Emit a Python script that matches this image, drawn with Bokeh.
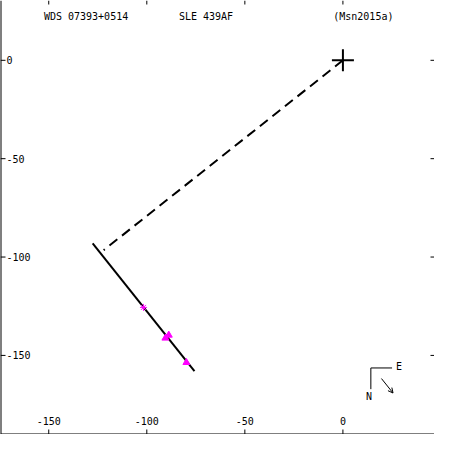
import math
from bokeh.plotting import figure
from bokeh.models import Span, Label, Arrow, OpenHead, ColumnDataSource
from bokeh.core.properties import value
from bokeh.embed import file_html
from bokeh.resources import INLINE

# ---- data ----
tick_values = [-150, -100, -50, 0]
tick_labels = ["-150", "-100", "-50", "0"]

primary_x = [0.0]
primary_y = [0.0]

fit_x = [-127.6, -75.7]
fit_y = [-93.0, -158.0]

node_x = [0.0, -122.0]
node_y = [0.0, -96.5]

obs_x = [-101.7, -90.5, -88.8, -79.8]
obs_y = [-125.6, -141.2, -139.7, -153.6]
obs_marker = ["asterisk", "triangle", "triangle", "triangle"]

title_left = "WDS 07393+0514"
title_mid = "SLE 439AF"
title_right = "(Msn2015a)"

X0, X1 = -174.6, 46.7
Y0, Y1 = -190.2, 30.4

W = H = 434
s = W / 450.0
FONT = "DejaVu Sans Mono"
FS = "10px"

p = figure(width=W, height=H, x_range=(X0, X1), y_range=(Y0, Y1),
           output_backend="svg", toolbar_location=None,
           x_axis_type=None, y_axis_type=None, min_border=0)
p.grid.visible = False
p.outline_line_color = None
p.background_fill_color = "white"

# axis lines (left and bottom)
p.add_layout(Span(location=X0, dimension="height", line_color="black", line_width=2))
p.add_layout(Span(location=Y0, dimension="width", line_color="black", line_width=2))

# ticks
n = len(tick_values)
p.ray(x=tick_values, y=[Y0] * n, length=5, length_units="screen", angle=math.pi / 2, color="black", line_width=1)
p.ray(x=tick_values, y=[Y1] * n, length=4, length_units="screen", angle=-math.pi / 2, color="black", line_width=1)
p.ray(x=[X0] * n, y=tick_values, length=5, length_units="screen", angle=0, color="black", line_width=1)
p.ray(x=[X1] * n, y=tick_values, length=4, length_units="screen", angle=math.pi, color="black", line_width=1)

# tick labels
p.text(x=tick_values, y=[Y0] * n, text=tick_labels, text_align="center", text_baseline="middle",
       y_offset=-14, text_font=value(FONT), text_font_size=FS, text_color="black")
p.text(x=[X0] * n, y=tick_values, text=tick_labels, text_align="left", text_baseline="middle",
       x_offset=6, text_font=value(FONT), text_font_size=FS, text_color="black")

# header
for txt, px in [(title_left, 45), (title_mid, 185), (title_right, 345)]:
    p.add_layout(Label(x=px * s, y=H - 17 * s, x_units="screen", y_units="screen", text=txt,
                       text_font=FONT, text_font_size=FS, text_baseline="middle", text_align="left",
                       text_color="black"))

# dashed line of nodes, fit line
p.line(node_x, node_y, line_color="black", line_width=2, line_dash="10 6")
p.line(fit_x, fit_y, line_color="black", line_width=2)

# primary
p.scatter(primary_x, primary_y, marker="cross", size=22, line_color="black", line_width=2)

# observations
src = ColumnDataSource(dict(x=obs_x, y=obs_y, m=obs_marker))
p.scatter("x", "y", marker="m", source=src, size=7, line_color="magenta",
          fill_color="magenta", line_width=1)

# compass
def sx(v):
    return v * s

def sy(v):
    return H - v * s

p.add_layout(Arrow(end=None, x_start=sx(384), y_start=sy(381), x_end=sx(406), y_end=sy(381),
                   start_units="screen", end_units="screen", line_color="black", line_width=1))
p.add_layout(Arrow(end=None, x_start=sx(384), y_start=sy(381), x_end=sx(384), y_end=sy(403),
                   start_units="screen", end_units="screen", line_color="black", line_width=1))
p.add_layout(Arrow(end=OpenHead(size=5, line_color="black", line_width=1),
                   x_start=sx(395), y_start=sy(392), x_end=sx(407), y_end=sy(407),
                   start_units="screen", end_units="screen", line_color="black", line_width=1))
p.add_layout(Label(x=sx(410), y=sy(380), x_units="screen", y_units="screen", text="E",
                   text_font=FONT, text_font_size=FS, text_baseline="middle", text_align="left",
                   text_color="black"))
p.add_layout(Label(x=sx(382), y=sy(411), x_units="screen", y_units="screen", text="N",
                   text_font=FONT, text_font_size=FS, text_baseline="middle", text_align="center",
                   text_color="black"))

open("out.html", "w").write(file_html(p, INLINE))
